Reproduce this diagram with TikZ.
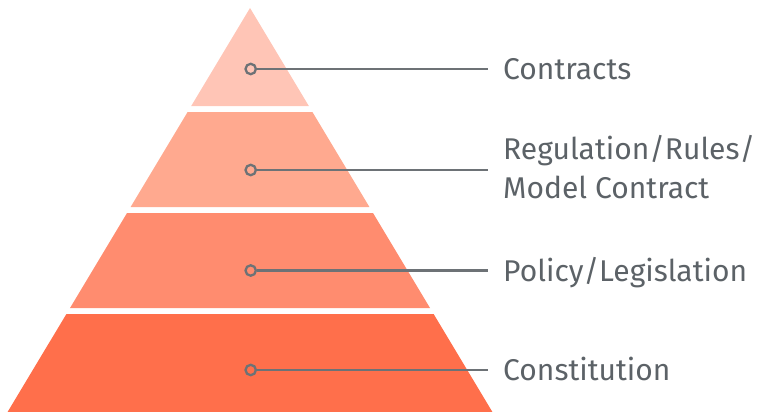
\documentclass[tikz,border=0pt]{standalone}
\usepackage{fontspec}
\setmainfont{Fira Sans}[Ligatures=NoCommon]
\definecolor{layerA}{HTML}{FFC5B6}
\definecolor{layerB}{HTML}{FFA98F}
\definecolor{layerC}{HTML}{FF8C6F}
\definecolor{layerD}{HTML}{FF6F4B}
\definecolor{leadgray}{HTML}{6D7276}
\definecolor{tagtext}{HTML}{5C6267}
\begin{document}
\begin{tikzpicture}[x=1pt,y=-1pt,
  dot/.style={draw=leadgray,line width=2.3pt,circle,inner sep=0pt,minimum size=10.4pt},
  tag/.style={anchor=west,inner sep=0pt,text=tagtext,font=\fontsize{30}{39}\selectfont,align=left},
  oneline/.style={tag,text height=21pt,text depth=0pt},
  lead/.style={draw=leadgray,line width=2.3pt,shorten >=15pt}]
\useasboundingbox (0,0) rectangle (758,412);

%pyramid layers
\foreach \ya/\yb/\col in {8/106/layerA,112/207/layerB,213/308/layerC,314/412/layerD}
  \fill[\col] ({250-0.6*(\ya-8)},\ya) -- ({250+0.6*(\ya-8)},\ya) -- ({250+0.6*(\yb-8)},\yb) -- ({250-0.6*(\yb-8)},\yb) -- cycle;

%markers
\node[dot] (D1) at (250.7,69) {};
\node[dot] (D2) at (250.7,170) {};
\node[dot] (D3) at (250.7,270.5) {};
\node[dot] (D4) at (250.7,370) {};

%labels
\node[oneline] (L1) at (503,69) {Contracts};
\node[tag] (L2) at (503,167) {Regulation/Rules/\\Model Contract};
\node[oneline] (L3) at (503,270.5) {Policy/Legislation};
\node[oneline] (L4) at (503,370) {Constitution};

\draw[lead] (D1) -- (D1 -| L1.west);
\draw[lead] (D2) -- (D2 -| L2.west);
\draw[lead] (D3) -- (D3 -| L3.west);
\draw[lead] (D4) -- (D4 -| L4.west);
\end{tikzpicture}
\end{document}
